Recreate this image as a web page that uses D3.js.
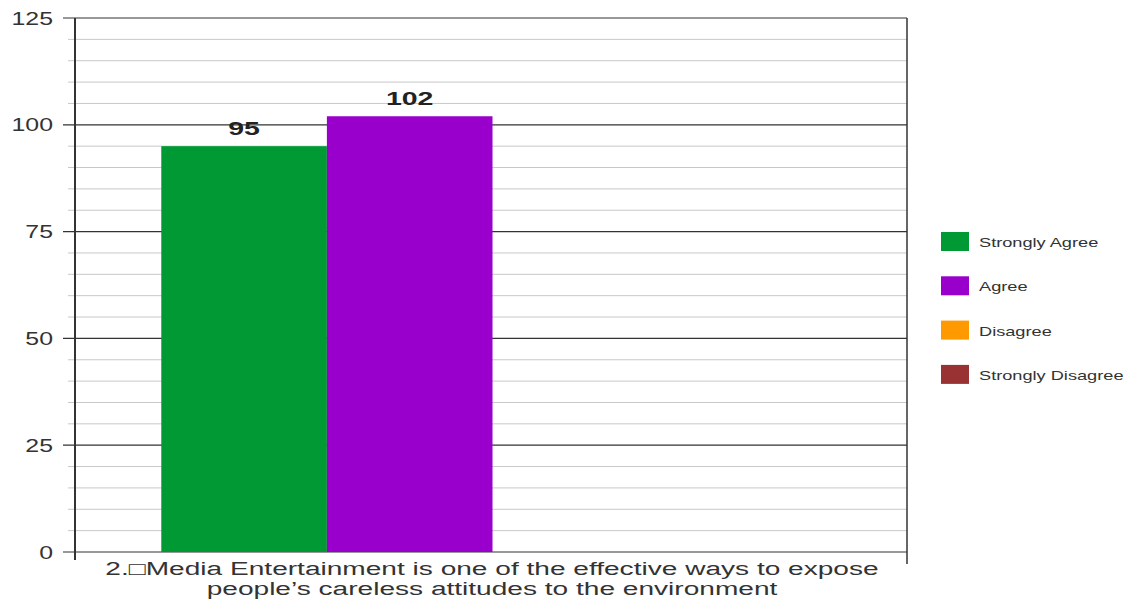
<!DOCTYPE html>
<html>
<head>
<meta charset="utf-8">
<script src="https://cdn.jsdelivr.net/npm/d3@7"></script>
<style>
  body { margin: 0; background: #fff; }
  text { font-family: "Liberation Sans", Arial, sans-serif; fill: #333; }
</style>
</head>
<body>
<svg></svg>
<script>
const categories = ['2.\u25a1Media Entertainment is one of the effective ways to expose|people\u2019s careless attitudes to the environment'];
const seriesNames = ['Strongly Agree', 'Agree', 'Disagree', 'Strongly Disagree'];
const seriesValues = [95, 102, 0, 0];
const seriesColors = ['#009933', '#9900cc', '#ff9900', '#993333'];
const yTicks = [0, 25, 50, 75, 100, 125];

const [svgWidth, svgHeight] = [1131, 600];
const svg = d3.select('svg')
  .attr('width', svgWidth)
  .attr('height', svgHeight);

const plot = {left: 75, right: 907, top: 18, bottom: 552};
const sx = 1.38; // the reference text is stretched horizontally

const y = d3.scaleLinear()
  .domain([0, 125])
  .range([plot.bottom, plot.top]);

const x0 = d3.scaleBand()
  .domain(categories)
  .range([plot.left + 1.5, plot.right + 1.5])
  .paddingInner(0)
  .paddingOuter(0.128);

const x1 = d3.scaleBand()
  .domain(seriesNames)
  .range([0, x0.bandwidth()]);

// minor grid
const minor = d3.range(5, 125, 5).filter(v => v % 25 !== 0);
svg.append('g').selectAll('line')
  .data(minor)
  .enter()
  .append('line')
  .attr('x1', plot.left - 7)
  .attr('x2', plot.right)
  .attr('y1', d => y(d))
  .attr('y2', d => y(d))
  .attr('stroke', '#c8c8c8')
  .attr('stroke-width', 1);

// major grid + ticks
svg.append('g').selectAll('line')
  .data(yTicks)
  .enter()
  .append('line')
  .attr('x1', plot.left - 12)
  .attr('x2', plot.right)
  .attr('y1', d => y(d))
  .attr('y2', d => y(d))
  .attr('stroke', '#333')
  .attr('stroke-width', 1.2);

// bars
const group = svg.append('g')
  .attr('transform', `translate(${x0(categories[0])}, 0)`);
group.selectAll('rect')
  .data(seriesValues)
  .enter()
  .append('rect')
  .attr('x', (d, i) => x1(seriesNames[i]))
  .attr('width', x1.bandwidth())
  .attr('y', d => y(d))
  .attr('height', d => y(0) - y(d))
  .attr('fill', (d, i) => seriesColors[i]);

group.selectAll('text')
  .data(seriesValues.filter(d => d > 0))
  .enter()
  .append('text')
  .attr('transform', (d, i) => `translate(${x1(seriesNames[i]) + x1.bandwidth() / 2}, ${y(d) - 11}) scale(1.5, 1)`)
  .attr('text-anchor', 'middle')
  .style('font-size', '19px')
  .style('font-weight', 'bold')
  .style('fill', '#222')
  .text(d => d);

// axes lines
svg.append('line')
  .attr('x1', plot.left).attr('x2', plot.left)
  .attr('y1', plot.top).attr('y2', plot.bottom + 8)
  .attr('stroke', '#333').attr('stroke-width', 2);
svg.append('line')
  .attr('x1', plot.right).attr('x2', plot.right)
  .attr('y1', plot.top).attr('y2', plot.bottom + 12)
  .attr('stroke', '#333').attr('stroke-width', 1.5);

// y tick labels
svg.append('g').selectAll('text')
  .data(yTicks)
  .enter()
  .append('text')
  .attr('transform', d => `translate(53, ${y(d) + 6.5}) scale(${sx}, 1)`)
  .attr('text-anchor', 'end')
  .style('font-size', '18px')
  .text(d => d);

// category label
const lines = categories[0].split('|');
svg.append('g').selectAll('text')
  .data(lines)
  .enter()
  .append('text')
  .attr('transform', (d, i) => `translate(${(plot.left + plot.right) / 2 + 1}, ${575 + i * 20}) scale(1.56, 1)`)
  .attr('text-anchor', 'middle')
  .style('font-size', '18px')
  .text(d => d);

// legend
const legend = svg.append('g').selectAll('g')
  .data(seriesNames)
  .enter()
  .append('g')
  .attr('transform', (d, i) => `translate(941, ${232 + i * 44.3})`);
legend.append('rect')
  .attr('width', 28)
  .attr('height', 19)
  .attr('fill', (d, i) => seriesColors[i]);
legend.append('text')
  .attr('transform', `translate(38, 15) scale(1.4, 1)`)
  .style('font-size', '13px')
  .text(d => d);
</script>
</body>
</html>
